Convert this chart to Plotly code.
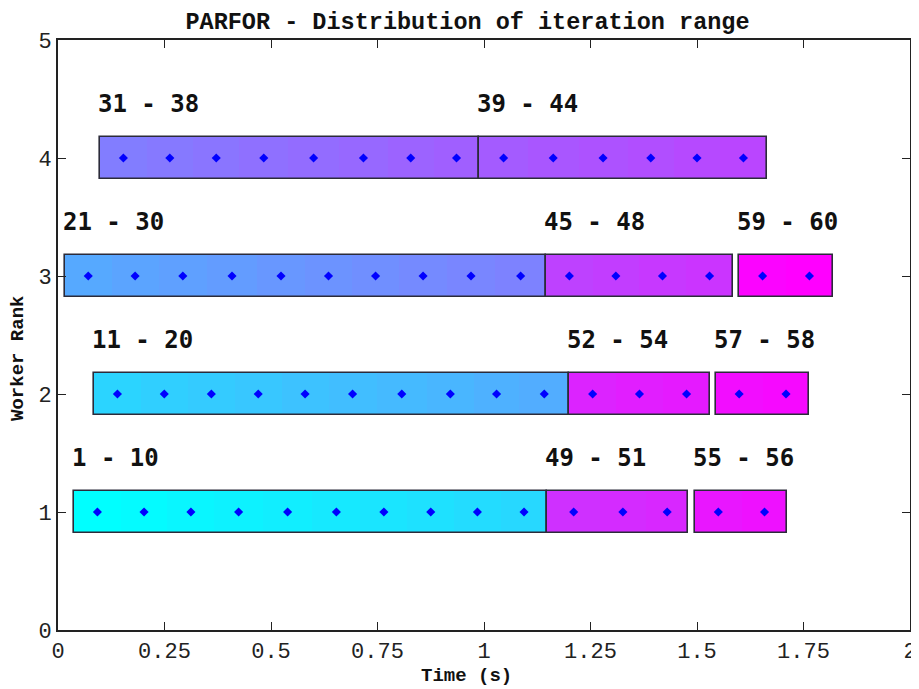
import plotly.graph_objects as go

# ---- data ----
# iteration boundaries per chunk (seconds); iterations numbered 1..60
iter_worker = ([1] * 10 + [2] * 10 + [3] * 10 + [4] * 8 + [4] * 6 + [3] * 4 +
               [1] * 3 + [2] * 3 + [1] * 2 + [2] * 2 + [3] * 2)
chunk_first = [1, 11, 21, 31, 39, 45, 49, 52, 55, 57, 59]
chunk_last = [10, 20, 30, 38, 44, 48, 51, 54, 56, 58, 60]
chunk_bounds = [
    [0.038, 0.147, 0.257, 0.367, 0.481, 0.597, 0.710, 0.820, 0.930, 1.039, 1.149],
    [0.085, 0.194, 0.305, 0.415, 0.525, 0.635, 0.748, 0.866, 0.976, 1.083, 1.200],
    [0.016, 0.126, 0.236, 0.350, 0.467, 0.580, 0.690, 0.801, 0.913, 1.026, 1.146],
    [0.099, 0.208, 0.317, 0.426, 0.540, 0.660, 0.774, 0.882, 0.989],
    [0.989, 1.103, 1.222, 1.337, 1.446, 1.554, 1.664],
    [1.146, 1.255, 1.364, 1.474, 1.585],
    [1.149, 1.272, 1.380, 1.480],
    [1.200, 1.310, 1.420, 1.531],
    [1.495, 1.605, 1.712],
    [1.544, 1.654, 1.764],
    [1.599, 1.709, 1.819],
]
x_ticks = [0, 0.25, 0.5, 0.75, 1, 1.25, 1.5, 1.75, 2]
x_ticktext = ["0", "0.25", "0.5", "0.75", "1", "1.25", "1.5", "1.75", "2"]
y_ticks = [0, 1, 2, 3, 4, 5]

# ---- derive per-iteration arrays ----
iter_start = [None] * 60
iter_end = [None] * 60
for f, l, b in zip(chunk_first, chunk_last, chunk_bounds):
    for k, it in enumerate(range(f, l + 1)):
        iter_start[it - 1] = b[k]
        iter_end[it - 1] = b[k + 1]
iters = list(range(1, 61))


def cool(i):
    t = (i - 1) / 59
    r = round(255 * t)
    g = round(255 * (1 - t))
    return f"rgb({r},{g},255)"


BW = 0.36
fig = go.Figure()
fig.add_trace(go.Bar(
    orientation="h",
    y=iter_worker,
    base=iter_start,
    x=[e - s for s, e in zip(iter_start, iter_end)],
    width=BW,
    marker=dict(color=[cool(i) for i in iters], line=dict(width=0)),
    showlegend=False, hoverinfo="skip",
))
c_start = [iter_start[f - 1] for f in chunk_first]
c_end = [iter_end[l - 1] for l in chunk_last]
c_worker = [iter_worker[f - 1] for f in chunk_first]
fig.add_trace(go.Bar(
    orientation="h",
    y=c_worker,
    base=c_start,
    x=[e - s for s, e in zip(c_start, c_end)],
    width=BW,
    marker=dict(color="rgba(0,0,0,0)", line=dict(color="#2b2b3a", width=1.6)),
    showlegend=False, hoverinfo="skip",
))
fig.add_trace(go.Scatter(
    x=[(s + e) / 2 for s, e in zip(iter_start, iter_end)],
    y=iter_worker,
    mode="markers",
    marker=dict(symbol="diamond", size=7, color="#0000ff"),
    showlegend=False, hoverinfo="skip",
))

for f, l, s, w in zip(chunk_first, chunk_last, c_start, c_worker):
    fig.add_annotation(
        x=s, y=w + 0.46, xref="x", yref="y",
        text=f"{f} - {l}", showarrow=False,
        xanchor="left", yanchor="middle", xshift=-4,
        font=dict(family="DejaVu Sans Mono", size=24, color="#111", weight="bold"),
    )

axfont = dict(family="Liberation Mono", size=19, color="#111", weight="bold")
fig.add_annotation(x=0.479, y=-0.078, xref="paper", yref="paper",
                   text="Time (s)", showarrow=False,
                   xanchor="center", yanchor="middle", font=axfont)
fig.add_annotation(x=-0.047, y=0.461, xref="paper", yref="paper",
                   text="Worker Rank", showarrow=False, textangle=-90,
                   xanchor="center", yanchor="middle", font=axfont)

tickfont = dict(family="Liberation Mono", size=22, color="#222")
# the page places the figure 8px from the top-left corner
W, H = 911, 681
fig.update_layout(
    width=W, height=H,
    margin=dict(l=50, r=9, t=32, b=59),
    plot_bgcolor="white", paper_bgcolor="white",
    barmode="overlay", bargap=0,
    title=dict(
        text="PARFOR - Distribution of iteration range",
        x=0.5 + 4 / W, xanchor="center", y=1 - 13 / H, yanchor="middle",
        yref="container",
        font=dict(family="Liberation Mono", size=23.5, color="#111", weight="bold"),
    ),
    xaxis=dict(
        range=[0, 2], tickvals=x_ticks, ticktext=x_ticktext,
        ticks="inside", ticklen=8, tickwidth=1.2, tickcolor="#222",
        showline=True, linecolor="#222", linewidth=1.6, mirror="ticks",
        showgrid=False, zeroline=False, tickfont=tickfont, automargin=False,
    ),
    yaxis=dict(
        range=[0, 5], tickvals=y_ticks,
        ticks="inside", ticklen=8, tickwidth=1.2, tickcolor="#222",
        showline=True, linecolor="#222", linewidth=1.6, mirror="ticks",
        showgrid=False, zeroline=False, tickfont=tickfont, automargin=False,
    ),
)

fig.write_html("out.html")
